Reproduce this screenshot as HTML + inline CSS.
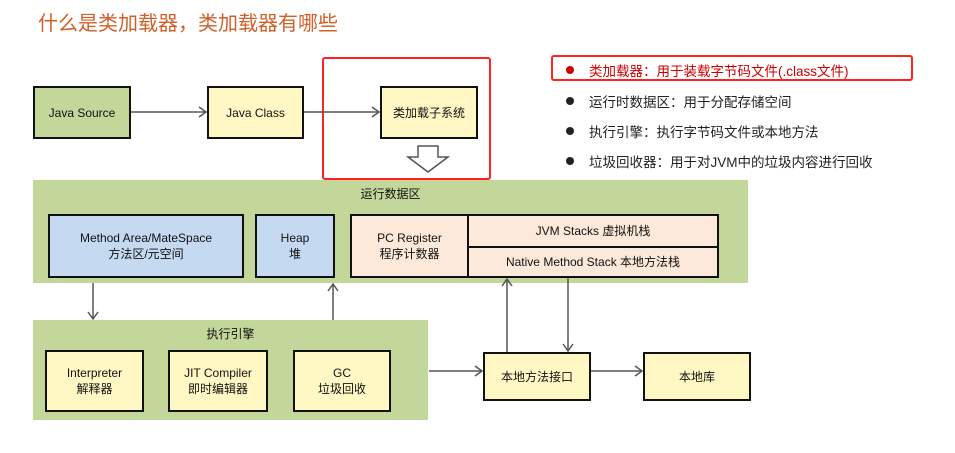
<!DOCTYPE html>
<html><head><meta charset="utf-8"><style>
body{margin:0;width:955px;height:453px;background:#fff;position:relative;overflow:hidden;font-family:"Liberation Sans","Noto Sans CJK SC",sans-serif;}
.a{position:absolute;box-sizing:border-box;display:flex;align-items:center;justify-content:center;text-align:center;font-size:12px;color:#111;line-height:16px;}
.b{border:2px solid #111;}
.y{background:#fff8c4;}
.t{position:absolute;font-size:13.5px;color:#222;font-family:"Liberation Sans","Noto Sans CJK SC",sans-serif;}
.dot{position:absolute;width:8px;height:8px;border-radius:50%;background:#222;}
</style></head><body>
<div style="position:absolute;left:38px;top:7px;font-size:20px;color:#d0602a;font-family:'Liberation Sans','Noto Sans CJK SC',sans-serif;">什么是类加载器，类加载器有哪些</div>
<div class="a b" style="left:33px;top:86px;width:98px;height:53px;background:#c4d79b;">Java Source</div>
<div class="a b y" style="left:207px;top:86px;width:97px;height:53px;">Java Class</div>
<div class="a b y" style="left:380px;top:86px;width:98px;height:53px;">类加载子系统</div>
<div style="position:absolute;left:322px;top:57px;width:169px;height:123px;border:2px solid #f22;border-radius:3px;box-sizing:border-box;"></div>
<div class="a" style="left:33px;top:180px;width:715px;height:103px;background:#c4d79b;align-items:flex-start;padding-top:6px;">运行数据区</div>
<div class="a b" style="left:48px;top:214px;width:196px;height:64px;background:#c5d9f1;">Method Area/MateSpace<br>方法区/元空间</div>
<div class="a b" style="left:255px;top:214px;width:80px;height:64px;background:#c5d9f1;">Heap<br>堆</div>
<div class="a b" style="left:350px;top:214px;width:119px;height:64px;background:#fde9d9;">PC Register<br>程序计数器</div>
<div class="a b" style="left:467px;top:214px;width:252px;height:34px;background:#fde9d9;">JVM Stacks 虚拟机栈</div>
<div class="a b" style="left:467px;top:246px;width:252px;height:32px;background:#fde9d9;">Native Method Stack 本地方法栈</div>
<div class="a" style="left:33px;top:320px;width:395px;height:100px;background:#c4d79b;align-items:flex-start;padding-top:6px;">执行引擎</div>
<div class="a b y" style="left:45px;top:350px;width:99px;height:62px;">Interpreter<br>解释器</div>
<div class="a b y" style="left:168px;top:350px;width:100px;height:62px;">JIT Compiler<br>即时编辑器</div>
<div class="a b y" style="left:293px;top:350px;width:98px;height:62px;">GC<br>垃圾回收</div>
<div class="a b y" style="left:483px;top:352px;width:108px;height:49px;">本地方法接口</div>
<div class="a b y" style="left:643px;top:352px;width:108px;height:49px;">本地库</div>
<svg style="position:absolute;left:0;top:0" width="955" height="453">
<g stroke="#555" stroke-width="1.5" fill="none">
<line x1="131" y1="112" x2="206" y2="112"/><polyline points="199,107 206,112 199,117"/>
<line x1="304" y1="112" x2="379" y2="112"/><polyline points="372,107 379,112 372,117"/>
<line x1="93" y1="283" x2="93" y2="319"/><polyline points="88,312 93,319 98,312"/>
<line x1="333" y1="320" x2="333" y2="284"/><polyline points="328,291 333,284 338,291"/>
<line x1="507" y1="352" x2="507" y2="279"/><polyline points="502,286 507,279 512,286"/>
<line x1="568" y1="278" x2="568" y2="351"/><polyline points="563,344 568,351 573,344"/>
<line x1="429" y1="371" x2="482" y2="371"/><polyline points="475,366 482,371 475,376"/>
<line x1="591" y1="371" x2="642" y2="371"/><polyline points="635,366 642,371 635,376"/>
</g>
<polygon points="418,146 438,146 438,157 448,157 428,172 408,157 418,157" fill="#fff" stroke="#555" stroke-width="1.5"/>
</svg>
<div style="position:absolute;left:551px;top:55px;width:362px;height:26px;border:2px solid #f22;border-radius:3px;box-sizing:border-box;"></div>
<div class="dot" style="left:566px;top:66px;background:#c00;"></div>
<div class="t" style="left:589px;top:60px;color:#c00;">类加载器：用于装载字节码文件(.class文件)</div>
<div class="dot" style="left:566px;top:97px;"></div>
<div class="t" style="left:589px;top:91px;">运行时数据区：用于分配存储空间</div>
<div class="dot" style="left:566px;top:127px;"></div>
<div class="t" style="left:589px;top:121px;">执行引擎：执行字节码文件或本地方法</div>
<div class="dot" style="left:566px;top:157px;"></div>
<div class="t" style="left:589px;top:151px;">垃圾回收器：用于对JVM中的垃圾内容进行回收</div>
</body></html>
